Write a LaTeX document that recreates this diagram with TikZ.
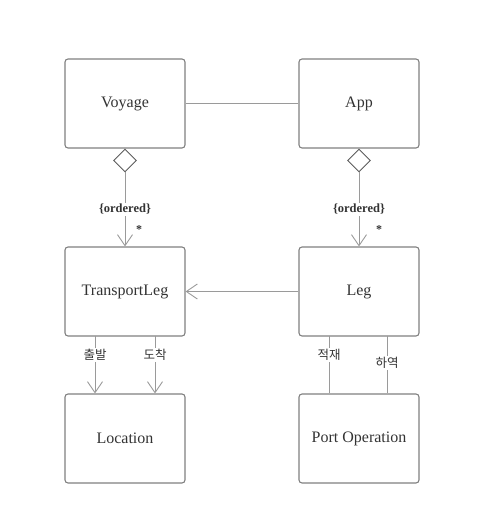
\documentclass[tikz,border=0pt]{standalone}
\usepackage{fontspec}
\setmainfont{Liberation Serif}
\newfontfamily\kr{Noto Sans CJK KR}
\usetikzlibrary{arrows.meta,shapes.geometric}
\definecolor{boxline}{HTML}{808080}
\definecolor{conn}{HTML}{9A9A9A}
\definecolor{txt}{HTML}{333333}
\begin{document}
\begin{tikzpicture}[x=1pt,y=-1pt,
  cls/.style={draw=boxline,line width=1.1pt,rounded corners=3pt,minimum width=120pt,minimum height=89pt,inner sep=0pt,text=txt,font=\fontsize{16}{18}\selectfont,fill=white},
  link/.style={draw=conn,line width=1pt},
  openarr/.style={link,-{Straight Barb[length=11pt,width=15pt,line width=0.9pt]}},
  agg/.style={diamond,draw=txt!80,line width=0.9pt,minimum width=23pt,minimum height=23pt,inner sep=0pt,fill=white},
  lbl/.style={font=\bfseries\fontsize{12.5}{14}\selectfont,text=txt,fill=white,inner sep=1.5pt},
  klbl/.style={font=\kr\fontsize{12.5}{14}\selectfont,text=txt,fill=white,inner sep=1.5pt},
  star/.style={font=\bfseries\fontsize{12}{13}\selectfont,text=txt,inner sep=0pt}]
\useasboundingbox (0,0) rectangle (501,523);
\node[cls] (voyage) at (125,103.5) {Voyage};
\node[cls] (app) at (359,103.5) {App};
\node[cls] (tleg) at (125,291.5) {TransportLeg};
\node[cls] (leg) at (359,291.5) {Leg};
\node[cls] (loc) at (125,438.5) {Location};
\node[cls] (port) at (359,438.5) {Port Operation};
\draw[link] (voyage.east) -- (app.west);
\node[agg] (d1) at (125,160.5) {};
\node[agg] (d2) at (359,160.5) {};
\draw[openarr] (d1.south) -- node[lbl,pos=0.5]{\{ordered\}} (tleg.north);
\draw[openarr] (d2.south) -- node[lbl,pos=0.5]{\{ordered\}} (leg.north);
\node[star] (s1) at (139,230) {*};
\node[star] (s2) at (379,230) {*};
\draw[openarr] (leg.west) -- (tleg.east);
\coordinate (a1) at (95,336);
\coordinate (a2) at (155,336);
\draw[openarr] (a1) -- node[klbl,pos=0.33]{출발} (a1 |- loc.north);
\draw[openarr] (a2) -- node[klbl,pos=0.33]{도착} (a2 |- loc.north);
\coordinate (b1) at (329,336);
\coordinate (b2) at (387,336);
\draw[link] (b1) -- node[klbl,pos=0.33]{적재} (b1 |- port.north);
\draw[link] (b2) -- node[klbl,pos=0.47]{하역} (b2 |- port.north);
\end{tikzpicture}
\end{document}
